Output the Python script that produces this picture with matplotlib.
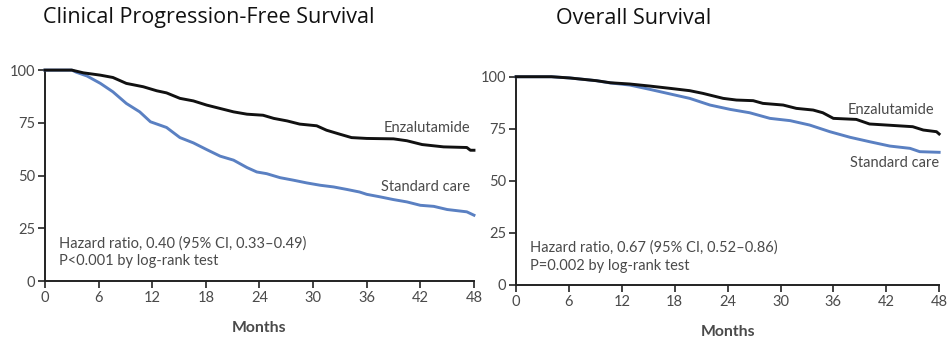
import matplotlib
matplotlib.use("Agg")
import matplotlib.pyplot as plt

plt.rcParams['font.family'] = ['Lato', 'DejaVu Sans']

# Clinical progression-free survival (percent), months
pfs_enza_months = [0, 3, 4.3, 6.2, 7.6, 9.1, 11, 12.5, 13.6, 15.1, 16.6, 18.1, 19.6, 21.1,
                   22.6, 24.4, 25.6, 27.1, 28.5, 30.4, 31.5, 33, 34.3, 36, 39, 40.5, 42.2,
                   44.6, 47.2, 47.6, 48]
pfs_enza_pct = [100, 100, 98.7, 97.6, 96.5, 93.7, 92.1, 90.2, 89.2, 86.6, 85.4, 83.4, 81.8, 80.2,
                79.1, 78.6, 77.1, 75.9, 74.4, 73.6, 71.5, 69.6, 68.0, 67.6, 67.4, 66.5, 64.7,
                63.6, 63.3, 62.0, 62.0]

pfs_std_months = [0, 3, 3.5, 4.7, 6.2, 7.6, 9.1, 10.6, 11.8, 13.6, 15.1, 16.6, 18.1, 19.6,
                  21.1, 22.6, 23.7, 24.8, 26.3, 27.8, 29.3, 30.8, 32.3, 33.8, 35.2, 36, 37.5,
                  39, 40.5, 42, 43.5, 45, 47.2, 48]
pfs_std_pct = [100, 100, 99.0, 97.2, 93.7, 89.7, 84.2, 80.2, 75.5, 72.8, 68.0, 65.5, 62.3, 59.2,
               57.3, 53.8, 51.7, 50.9, 49.0, 47.8, 46.5, 45.4, 44.6, 43.4, 42.2, 41.1, 39.9,
               38.6, 37.5, 35.9, 35.4, 33.9, 32.8, 31.2]

# Overall survival (percent), months
os_enza_months = [0, 4, 6.1, 9.1, 10.7, 12.9, 15.2, 17.5, 19.7, 21.2, 23.5, 25, 26.9, 28,
                  30.3, 31.8, 33.7, 34.8, 36, 38.6, 40.1, 42, 45, 46.2, 47.7, 48]
os_enza_pct = [100, 100, 99.4, 98.1, 97.1, 96.5, 95.5, 94.4, 93.3, 92.0, 89.6, 88.8, 88.5, 87.2,
               86.4, 84.8, 84.0, 82.7, 80.0, 79.5, 77.3, 76.8, 76.0, 74.4, 73.6, 72.5]

os_std_months = [0, 4, 6.1, 9.1, 10.7, 12.9, 15.2, 17.5, 19.7, 22, 24.3, 26.5, 28.8, 31.1,
                 33.3, 35.6, 37.9, 40.1, 42.4, 44.7, 45.8, 48]
os_std_pct = [100, 100, 99.4, 98.1, 97.0, 96.0, 93.9, 91.7, 89.6, 86.4, 84.3, 82.7, 80.0, 78.9,
              76.8, 73.6, 70.9, 68.8, 66.7, 65.6, 64.0, 63.7]

x_ticks = [0, 6, 12, 18, 24, 30, 36, 42, 48]
y_ticks = [0, 25, 50, 75, 100]

titles = ["Clinical Progression-Free Survival", "Overall Survival"]
stats = [["Hazard ratio, 0.40 (95% CI, 0.33\u20130.49)", "P<0.001 by log-rank test"],
         ["Hazard ratio, 0.67 (95% CI, 0.52\u20130.86)", "P=0.002 by log-rank test"]]

BLACK = "#111111"
BLUE = "#5a80c2"
TXT = "#4a4a4a"
FS = 10.5

fig = plt.figure(figsize=(9.47, 3.38), dpi=100)
ax1 = fig.add_axes([0.0475, 0.1686, 0.453, 0.624])
ax2 = fig.add_axes([0.545, 0.157, 0.4467, 0.616])

panels = [
    (ax1, pfs_enza_months, pfs_enza_pct, pfs_std_months, pfs_std_pct,
     (47.6, 72.5), (47.6, 44.5)),
    (ax2, os_enza_months, os_enza_pct, os_std_months, os_std_pct,
     (47.4, 84.0), (48.0, 58.4)),
]

for i, (ax, em, ep, sm, sp, elab, slab) in enumerate(panels):
    ax.plot(sm, sp, color=BLUE, lw=2.1, clip_on=False, zorder=3, solid_joinstyle="round")
    ax.plot(em, ep, color=BLACK, lw=2.1, clip_on=False, zorder=4, solid_joinstyle="round")
    ax.set_xlim(0, 48)
    ax.set_ylim(0, 100)
    ax.set_xticks(x_ticks)
    ax.set_yticks(y_ticks)
    for s in ("top", "right"):
        ax.spines[s].set_visible(False)
    for s in ("left", "bottom"):
        ax.spines[s].set_linewidth(1.4)
        ax.spines[s].set_color("#222222")
    ax.tick_params(axis="both", direction="out", length=5, width=1.2, color="#222222",
                   labelsize=FS, labelcolor=TXT, pad=2)
    ax.set_xlabel("Months", fontsize=11.3, fontweight="bold", color=TXT, labelpad=12)
    ax.text(elab[0], elab[1], "Enzalutamide", ha="right", va="center", fontsize=FS, color=TXT)
    ax.text(slab[0], slab[1], "Standard care", ha="right", va="center", fontsize=FS, color=TXT)
    ax.text(1.6, 18, stats[i][0], ha="left", va="center", fontsize=FS, color=TXT)
    ax.text(1.6, 9.3, stats[i][1], ha="left", va="center", fontsize=FS, color=TXT)

fig.text(43 / 947, 1 - 18 / 338, titles[0], ha="left", va="center", fontsize=15.5,
         family=["Open Sans", "DejaVu Sans"], color="#111111")
fig.text(556 / 947, 1 - 18 / 338, titles[1], ha="left", va="center", fontsize=15.5,
         family=["Open Sans", "DejaVu Sans"], color="#111111")

fig.savefig("out.png", dpi=100, facecolor="white")
